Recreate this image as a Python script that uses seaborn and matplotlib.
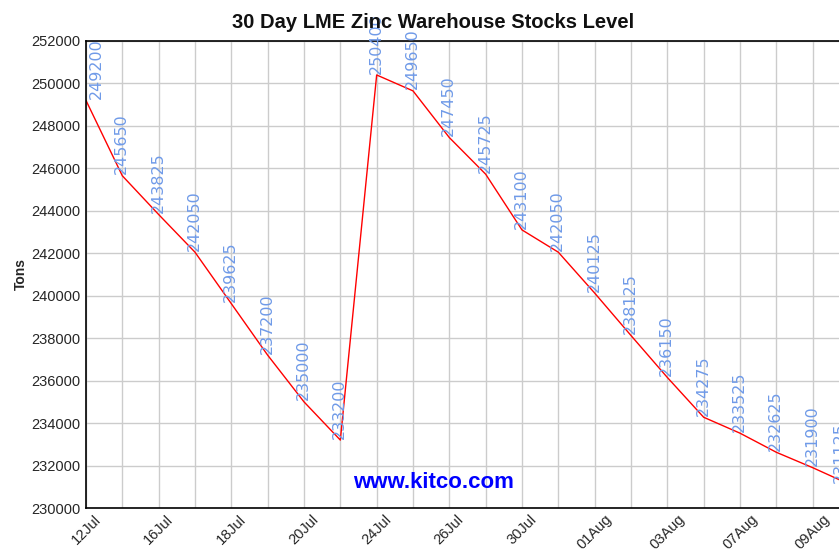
import numpy as np
import pandas as pd
import matplotlib
matplotlib.use("Agg")
import matplotlib.pyplot as plt
import seaborn as sns

# 30 day LME zinc warehouse stocks
stocks = [249200, 245650, 243825, 242050, 239625, 237200, 235000, 233200,
          250400, 249650, 247450, 245725, 243100, 242050, 240125, 238125,
          236150, 234275, 233525, 232625, 231900, 231125]
tick_labels = ["12Jul", "16Jul", "18Jul", "20Jul", "24Jul", "26Jul",
               "30Jul", "01Aug", "03Aug", "07Aug", "09Aug"]

df = pd.DataFrame({"day": np.arange(len(stocks)), "tons": stocks})

sns.set_style("white")
plt.rcParams["font.family"] = ["Liberation Sans", "DejaVu Sans"]

fig = plt.figure(figsize=(8.39, 5.5), dpi=100)
ax = fig.add_axes([86/839, 1 - 508/550, (849 - 86)/839, (508 - 41)/550])

sns.lineplot(data=df, x="day", y="tons", color="red", linewidth=1, ax=ax)

# value labels above each point (first / last nudged to stay inside)
n = len(stocks)
for d, t in zip(df["day"], df["tons"]):
    dx = -0.5
    if d == 0:
        dx = 7.5
    elif d == n - 1:
        dx = -6.5
    ax.annotate(str(t), (d, t), xytext=(dx, 1), textcoords="offset points",
                rotation=90, ha="center", va="bottom", fontsize=11.5,
                color="#6f9ae8", family=["DejaVu Sans"], annotation_clip=False)

ax.set_xlim(0, n - 1)
ax.set_ylim(230000, 252000)
ax.set_yticks(range(230000, 252001, 2000))
ax.set_yticklabels([str(v) for v in range(230000, 252001, 2000)], fontsize=10.5)
ax.set_xticks(range(0, n, 2))
ax.set_xticklabels(tick_labels, rotation=45, ha="center", va="top", fontsize=10.5)
ax.set_xticks(range(n), minor=True)
ax.grid(True, which="both", color="#cccccc", linewidth=1)
ax.tick_params(axis="x", which="both", length=0, pad=3)
ax.tick_params(axis="y", length=3, width=1, pad=1)

for s in ["left", "top", "bottom"]:
    ax.spines[s].set_color("black")
    ax.spines[s].set_linewidth(1.2)
ax.spines["right"].set_visible(False)

ax.set_xlabel("")
ax.set_ylabel("Tons", fontsize=10, fontweight="bold")
ax.yaxis.set_label_coords(-0.076, 0.5)

fig.text(433/839, 1 - 22/550, "30 Day LME Zinc Warehouse Stocks Level",
         ha="center", va="center", fontsize=14.5, fontweight="bold", color="#111111")
fig.text(433/839, 1 - 482/550, "www.kitco.com", ha="center", va="center",
         fontsize=16, fontweight="bold", color="#0000ff")

fig.savefig("out.png", dpi=100)
